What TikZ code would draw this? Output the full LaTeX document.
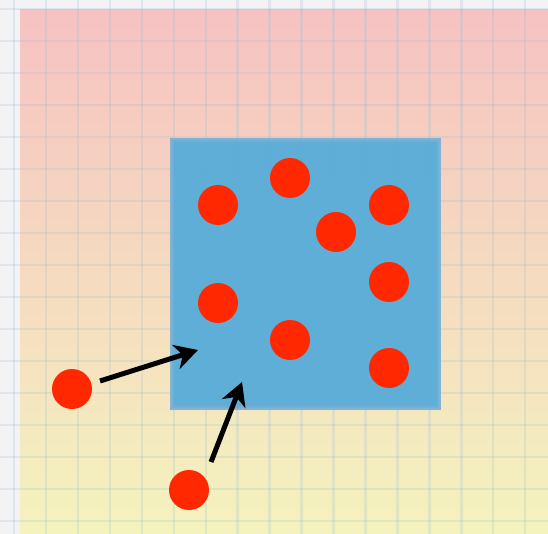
\documentclass[tikz,border=0pt]{standalone}
\usetikzlibrary{arrows.meta}
\definecolor{paper}{RGB}{243,243,245}
\definecolor{topcol}{RGB}{246,194,194}
\definecolor{midcol}{RGB}{246,218,194}
\definecolor{botcol}{RGB}{244,243,190}
\definecolor{gridcol}{RGB}{150,188,205}
\definecolor{boxfill}{RGB}{91,173,216}
\definecolor{boxedge}{RGB}{118,176,212}
\definecolor{dotred}{RGB}{255,40,0}
\tikzset{
  dot/.style={circle, fill=dotred, draw=none, minimum size=40pt, inner sep=0pt, outer sep=0pt},
  gridline/.style={draw=gridcol, line width=2.4pt, opacity=0.22},
  pusharrow/.style={draw=black, line width=5pt, -{Stealth[length=23pt,width=25pt,inset=7pt]}},
}
\begin{document}
\begin{tikzpicture}[x=1pt,y=-1pt]
  \useasboundingbox (0,0) rectangle (548,534);
  % paper
  \fill[paper] (0,0) rectangle (548,534);
  % shaded region
  \shade[top color=topcol, middle color=midcol, bottom color=botcol] (20,10) rectangle (548,534);
  % grid
  \foreach \i in {0,...,17} {
    \draw[gridline] ({14+31.95*\i},0) -- ({14+31.95*\i},534);
  }
  \foreach \j in {0,...,17} {
    \draw[gridline] (0,{9+32*\j}) -- (548,{9+32*\j});
  }
  % container
  \node[draw=boxedge, line width=4pt, fill=boxfill, fill opacity=0.97, draw opacity=0.9,
        minimum width=267pt, minimum height=268pt, inner sep=0pt, outer sep=0pt]
        (box) at (305.5,274) {};
  % particles inside
  \node[dot] (d1) at (218,205) {};
  \node[dot] (d2) at (290,178) {};
  \node[dot] (d3) at (336,232) {};
  \node[dot] (d4) at (389,205) {};
  \node[dot] (d5) at (389,282) {};
  \node[dot] (d6) at (218,303) {};
  \node[dot] (d7) at (290,340) {};
  \node[dot] (d8) at (389,368) {};
  % particles outside
  \node[dot] (d9) at (72,389) {};
  \node[dot] (d10) at (189,490) {};
  % entry paths
  \coordinate (s1) at (100,381);
  \coordinate (t1) at (198,350);
  \coordinate (s2) at (211,462);
  \coordinate (t2) at (242,382);
  \draw[pusharrow] (s1) -- (t1);
  \draw[pusharrow] (s2) -- (t2);
\end{tikzpicture}
\end{document}
